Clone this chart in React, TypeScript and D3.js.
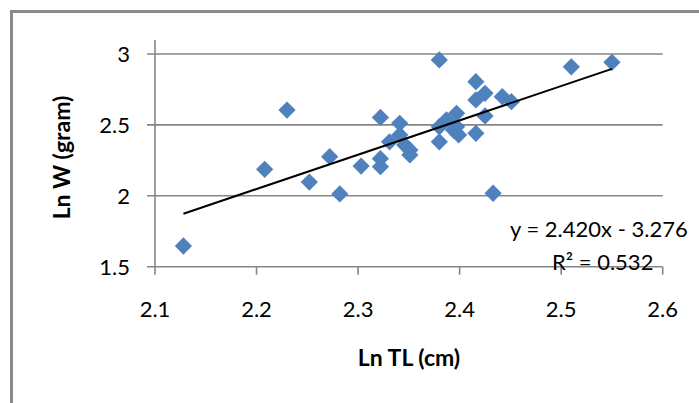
import React from "react";
import * as d3 from "d3";

const lnTL: number[] = [
  2.128, 2.208, 2.230, 2.252, 2.272, 2.282, 2.303, 2.322, 2.322, 2.322,
  2.331, 2.341, 2.341, 2.346, 2.351, 2.351, 2.380, 2.380, 2.380, 2.387,
  2.394, 2.397, 2.397, 2.399, 2.416, 2.416, 2.416, 2.425, 2.425, 2.433,
  2.442, 2.451, 2.510, 2.550,
];
const lnW: number[] = [
  1.646, 2.187, 2.605, 2.097, 2.276, 2.013, 2.210, 2.553, 2.205, 2.262,
  2.381, 2.511, 2.429, 2.358, 2.288, 2.323, 2.958, 2.381, 2.487, 2.535,
  2.464, 2.582, 2.487, 2.429, 2.805, 2.676, 2.441, 2.723, 2.563, 2.018,
  2.699, 2.664, 2.910, 2.941,
];
const xTicks: number[] = [2.1, 2.2, 2.3, 2.4, 2.5, 2.6];
const yTicks: number[] = [1.5, 2, 2.5, 3];
const slope = 2.42;
const intercept = -3.276;
const eqLabel = "y = 2.420x - 3.276";
const r2Label = "R² = 0.532";
const xTitle = "Ln TL (cm)";
const yTitle = "Ln W (gram)";

export default function App() {
  const W = 699, H = 403;
  const x = d3.scaleLinear().domain([2.1, 2.6]).range([155, 662.7]);
  const y = d3.scaleLinear().domain([1.5, 3]).range([266.7, 54]);
  const font = "Lato, 'Open Sans', sans-serif";
  const grid = "#868686";
  const xMin = d3.min(lnTL) as number;
  const xMax = d3.max(lnTL) as number;
  const line = d3.line<number>().x((v) => x(v)).y((v) => y(slope * v + intercept));
  const diamond = d3.symbol().type(d3.symbolDiamond2).size(190);
  return (
    <svg
      width={W}
      height={H}
      style={{ position: "absolute", left: 0, top: 0, background: "#fff" }}
      fontFamily={font}
    >
      <rect x={11.5} y={11.5} width={W + 10} height={H + 10} fill="#fff" stroke="#8a8a8a" strokeWidth={3} />
      {yTicks.map((t) => (
        <g key={"y" + t}>
          <line x1={147} x2={x(2.6)} y1={y(t)} y2={y(t)} stroke={grid} strokeWidth={1.6} />
          <text x={130} y={y(t)} dy="0.36em" textAnchor="end" fontSize={22} fill="#000">
            {t}
          </text>
        </g>
      ))}
      <line x1={x(2.1)} x2={x(2.1)} y1={40} y2={y(1.5)} stroke={grid} strokeWidth={1.6} />
      {xTicks.map((t) => (
        <g key={"x" + t}>
          <line x1={x(t)} x2={x(t)} y1={y(1.5)} y2={y(1.5) + 8} stroke={grid} strokeWidth={1.6} />
          <text x={x(t)} y={316.5} textAnchor="middle" fontSize={22} fill="#000">
            {t}
          </text>
        </g>
      ))}
      {lnTL.map((v, i) => (
        <path
          key={"p" + i}
          d={diamond() as string}
          transform={`translate(${x(v)},${y(lnW[i])})`}
          fill="#4F81BD"
        />
      ))}
      <path d={line([xMin, xMax]) as string} fill="none" stroke="#000" strokeWidth={2} />
      <text x={510} y={237} fontSize={22} fill="#000">{eqLabel}</text>
      <text x={552} y={270} fontSize={22} fill="#000">{r2Label}</text>
      <text x={409} y={366} textAnchor="middle" fontSize={23} fontWeight="bold" fill="#000">
        {xTitle}
      </text>
      <text
        transform={`translate(70,157.5) rotate(-90)`}
        textAnchor="middle"
        fontSize={23}
        fontWeight="bold"
        fill="#000"
      >
        {yTitle}
      </text>
    </svg>
  );
}
